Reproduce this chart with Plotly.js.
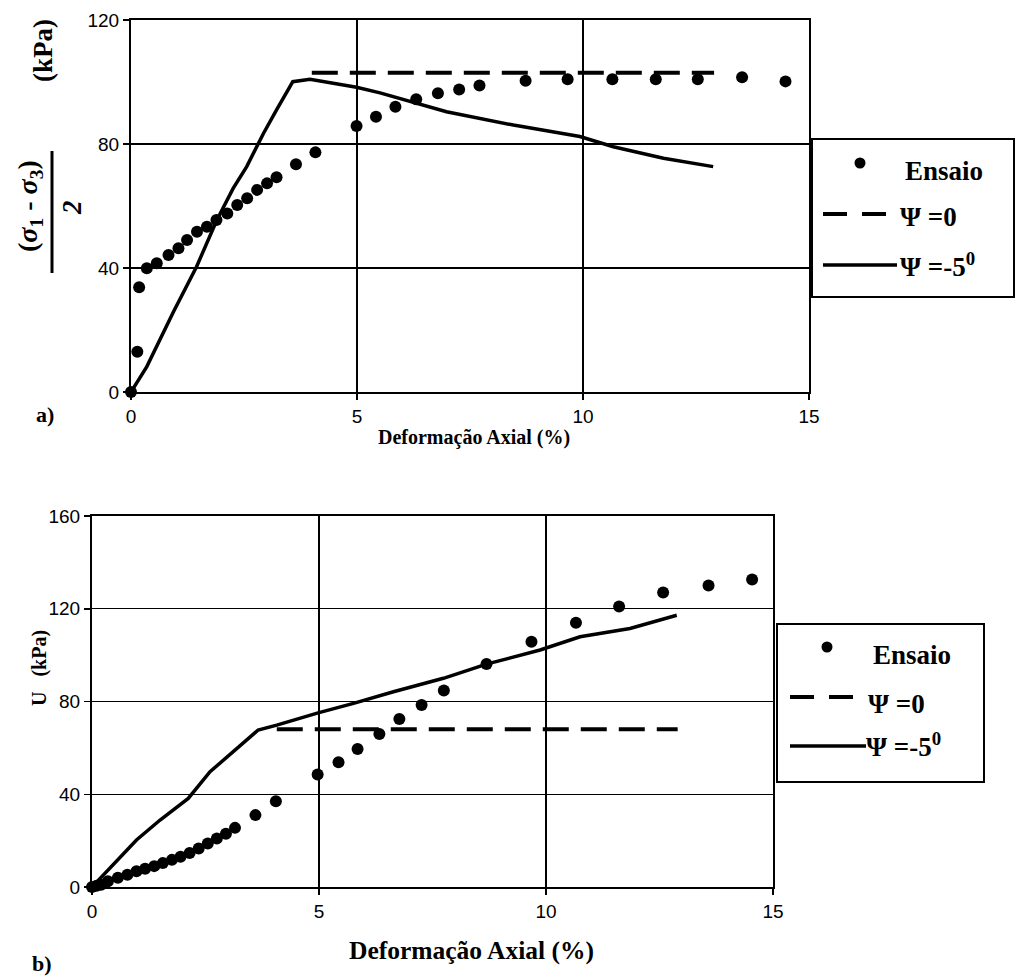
<!DOCTYPE html>
<html>
<head>
<meta charset="utf-8">
<script src="https://cdn.plot.ly/plotly-3.0.1.min.js"></script>
<style>html,body{margin:0;padding:0;background:#fff;}#chart{width:1016px;height:977px;}</style>
</head>
<body>
<div id="chart"></div>
<script>
// ---- Data ----
// a) Tensão desviadora (sigma1 - sigma3)/2, kPa
const ensaioStrainA = [0, 0.14, 0.18, 0.35, 0.57, 0.83, 1.05, 1.24, 1.46, 1.68, 1.89, 2.13, 2.35, 2.57, 2.79, 3.01, 3.22, 3.65, 4.08, 4.99, 5.42, 5.85, 6.31, 6.79, 7.26, 7.71, 8.73, 9.66, 10.65, 11.61, 12.54, 13.52, 14.48];
const ensaioQ = [0, 13, 33.8, 39.9, 41.5, 44.2, 46.4, 49, 51.7, 53.3, 55.5, 57.6, 60.3, 62.5, 65.2, 67.3, 69.3, 73.5, 77.3, 85.8, 88.8, 92, 94.4, 96.4, 97.6, 98.9, 100.4, 100.9, 100.9, 100.9, 100.9, 101.5, 100.2];
const psi0StrainA = [4.0, 12.9];
const psi0Q = [103, 103];
const psi5StrainA = [0, 0.35, 0.94, 1.45, 1.9, 2.26, 2.56, 2.93, 3.22, 3.58, 3.96, 4.99, 5.51, 6.98, 8.46, 9.93, 10.67, 11.78, 12.88];
const psi5Q = [0, 8.2, 25.9, 40.4, 55.5, 65.7, 72.7, 83.4, 91, 100.1, 100.9, 98.3, 96.5, 90.4, 86.1, 82.4, 79.1, 75.4, 72.7];

// b) Poropressão U, kPa
const ensaioStrainB = [0, 0.1, 0.2, 0.35, 0.57, 0.78, 0.98, 1.17, 1.37, 1.56, 1.76, 1.95, 2.15, 2.35, 2.55, 2.75, 2.95, 3.15, 3.6, 4.05, 4.97, 5.43, 5.85, 6.33, 6.77, 7.26, 7.75, 8.69, 9.68, 10.66, 11.61, 12.58, 13.58, 14.54];
const ensaioU = [0, 0.5, 1, 2.5, 4, 5.3, 6.8, 7.9, 9, 10.3, 11.7, 13, 14.7, 16.6, 18.8, 20.9, 23, 25.5, 31, 37, 48.5, 53.8, 59.5, 66, 72.5, 78.5, 84.7, 96.2, 105.8, 114, 121, 127, 130, 132.6];
const psi0StrainB = [4.07, 12.9];
const psi0U = [68, 68];
const psi5StrainB = [0, 0.98, 1.5, 2.12, 2.6, 2.89, 3.33, 3.66, 4.07, 4.98, 5.76, 6.64, 7.74, 8.69, 9.87, 10.75, 11.85, 12.88];
const psi5U = [0, 20.3, 28.9, 38.2, 49.7, 54.7, 61.9, 67.7, 69.8, 75.1, 79.2, 84.2, 90, 96.1, 102.2, 107.9, 111.5, 117.2];

// Text
const seriesNames = ["Ensaio", "\u03A8 =0", "\u03A8 =-5<sup>0</sup>"];
const xTitle = "Deformação Axial (%)";
const xTicks = [0, 5, 10, 15];
const yTicksA = [0, 40, 80, 120];
const yTicksB = [0, 40, 80, 120, 160];

// ---- Helpers: pixel -> paper ----
const W = 1016, H = 977;
const px = v => v / W;
const py = v => 1 - v / H;

const serif = 'Liberation Serif';
const sans = 'Liberation Sans';

function traces(xs, ys, xa, ya) {
  return [
    {x: xs[0], y: ys[0], xaxis: xa, yaxis: ya, name: seriesNames[0], type: 'scatter', mode: 'markers',
     marker: {color: 'black', size: 12}, cliponaxis: false, showlegend: false},
    {x: xs[1], y: ys[1], xaxis: xa, yaxis: ya, name: seriesNames[1], type: 'scatter', mode: 'lines',
     line: {color: 'black', width: 4, dash: '26px,12px'}, cliponaxis: false, showlegend: false},
    {x: xs[2], y: ys[2], xaxis: xa, yaxis: ya, name: seriesNames[2], type: 'scatter', mode: 'lines',
     line: {color: 'black', width: 3.5}, cliponaxis: false, showlegend: false}
  ];
}

const data = [
  ...traces([ensaioStrainA, psi0StrainA, psi5StrainA], [ensaioQ, psi0Q, psi5Q], 'x', 'y'),
  ...traces([ensaioStrainB, psi0StrainB, psi5StrainB], [ensaioU, psi0U, psi5U], 'x2', 'y2')
];

const axBase = {
  showline: true, linecolor: 'black', linewidth: 2, mirror: true,
  showgrid: true, gridcolor: 'black', gridwidth: 1.3,
  zeroline: false, ticks: 'outside', ticklen: 6, tickwidth: 1.5, tickcolor: 'black',
  tickfont: {family: sans, size: 19, color: 'black'}, fixedrange: true
};

// ---- Legend boxes (drawn as shapes + texts) ----
function legendBox(b) {
  const shapes = [
    {type: 'rect', xref: 'paper', yref: 'paper', x0: px(b.left), x1: px(b.right), y0: py(b.bottom), y1: py(b.top),
     line: {color: 'black', width: 2}, fillcolor: 'white', layer: 'above'},
    {type: 'circle', xref: 'paper', yref: 'paper', x0: px(b.dot[0] - 5.5), x1: px(b.dot[0] + 5.5), y0: py(b.dot[1] + 5.5), y1: py(b.dot[1] - 5.5),
     line: {color: 'black', width: 0}, fillcolor: 'black', layer: 'above'},
    {type: 'line', xref: 'paper', yref: 'paper', x0: px(b.dash[0]), x1: px(b.dash[1]), y0: py(b.dash[2]), y1: py(b.dash[2]),
     line: {color: 'black', width: 4, dash: '24px,15px'}, layer: 'above'},
    {type: 'line', xref: 'paper', yref: 'paper', x0: px(b.solid[0]), x1: px(b.solid[1]), y0: py(b.solid[2]), y1: py(b.solid[2]),
     line: {color: 'black', width: 3.5}, layer: 'above'}
  ];
  const f = {family: serif, size: 27, color: 'black', weight: 'bold'};
  const ann = b.texts.map((t, i) => ({xref: 'paper', yref: 'paper', x: px(t[0]), y: py(t[1]), text: '<b>' + seriesNames[i] + '</b>',
    showarrow: false, xanchor: 'left', yanchor: 'middle', font: f}));
  return {shapes, ann};
}

const legA = legendBox({left: 812, right: 1014, top: 139, bottom: 297,
  dot: [860, 163], dash: [823, 888, 214], solid: [823, 897, 265],
  texts: [[903, 171], [898, 217], [898, 265]]});
const legB = legendBox({left: 777, right: 984, top: 624, bottom: 782,
  dot: [827, 647], dash: [790, 856, 697], solid: [790, 866, 746],
  texts: [[871, 655], [866, 704], [864, 745]]});

const layout = {
  width: W, height: H,
  margin: {l: 0, r: 0, t: 0, b: 0},
  paper_bgcolor: 'white', plot_bgcolor: 'white',
  showlegend: false,
  xaxis: Object.assign({}, axBase, {domain: [px(131), px(809)], range: [0, 15], tickvals: xTicks, anchor: 'y'}),
  yaxis: Object.assign({}, axBase, {domain: [py(392), py(20)], range: [0, 120], tickvals: yTicksA, anchor: 'x'}),
  xaxis2: Object.assign({}, axBase, {domain: [px(92), px(773)], range: [0, 15], tickvals: xTicks, anchor: 'y2'}),
  yaxis2: Object.assign({}, axBase, {domain: [py(887), py(516)], range: [0, 160], tickvals: yTicksB, anchor: 'x2'}),
  shapes: [
    {type: 'line', xref: 'paper', yref: 'paper', x0: px(52), x1: px(52), y0: py(151), y1: py(273),
     line: {color: 'black', width: 3}},
    ...legA.shapes, ...legB.shapes
  ],
  annotations: [
    {xref: 'paper', yref: 'paper', x: px(474), y: py(437), text: '<b>' + xTitle + '</b>',
     showarrow: false, font: {family: serif, size: 20, color: 'black'}, xanchor: 'center', yanchor: 'middle'},
    {xref: 'paper', yref: 'paper', x: px(471), y: py(950), text: '<b>' + xTitle + '</b>',
     showarrow: false, font: {family: serif, size: 25.5, color: 'black'}, xanchor: 'center', yanchor: 'middle'},
    {xref: 'paper', yref: 'paper', x: px(29), y: py(206), text: '<b>(<i>σ</i><sub>1</sub> - <i>σ</i><sub>3</sub>)</b>',
     textangle: -90, showarrow: false, font: {family: serif, size: 28, color: 'black'}, xanchor: 'center', yanchor: 'middle'},
    {xref: 'paper', yref: 'paper', x: px(72), y: py(208), text: '<b><i>2</i></b>',
     textangle: -90, showarrow: false, font: {family: serif, size: 27, color: 'black'}, xanchor: 'center', yanchor: 'middle'},
    {xref: 'paper', yref: 'paper', x: px(43), y: py(51), text: '<b>(kPa)</b>',
     textangle: -90, showarrow: false, font: {family: serif, size: 27, color: 'black'}, xanchor: 'center', yanchor: 'middle'},
    {xref: 'paper', yref: 'paper', x: px(39), y: py(668), text: '<b>U   (kPa)</b>',
     textangle: -90, showarrow: false, font: {family: serif, size: 20, color: 'black'}, xanchor: 'center', yanchor: 'middle'},
    {xref: 'paper', yref: 'paper', x: px(45), y: py(414), text: '<b>a)</b>',
     showarrow: false, font: {family: serif, size: 22, color: 'black'}, xanchor: 'center', yanchor: 'middle'},
    {xref: 'paper', yref: 'paper', x: px(42), y: py(963), text: '<b>b)</b>',
     showarrow: false, font: {family: serif, size: 22, color: 'black'}, xanchor: 'center', yanchor: 'middle'},
    ...legA.ann, ...legB.ann
  ]
};

Plotly.newPlot('chart', data, layout, {staticPlot: true, displayModeBar: false});
</script>
</body>
</html>
